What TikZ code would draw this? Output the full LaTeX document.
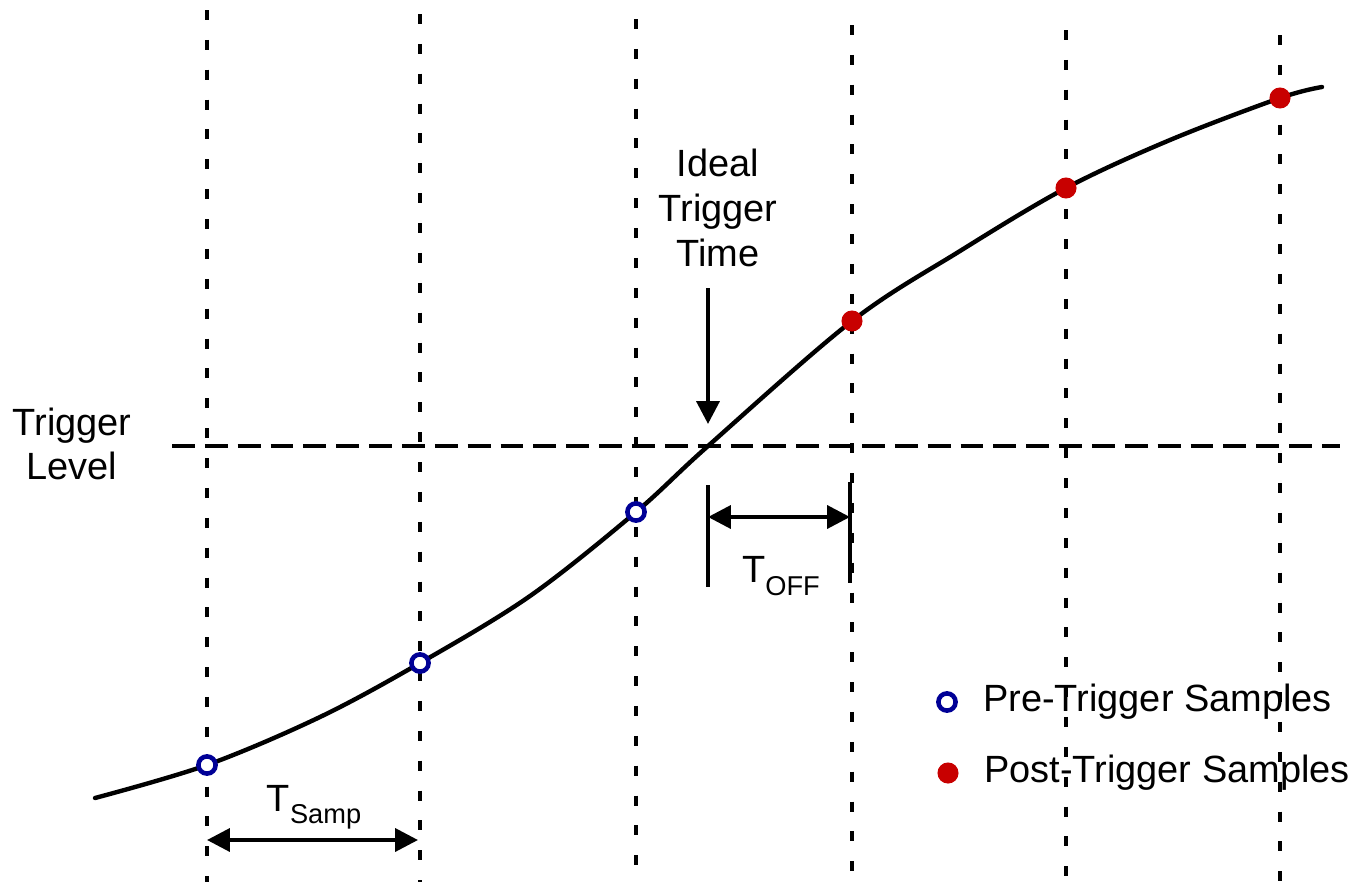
\documentclass[tikz,border=0pt]{standalone}
\usepackage{fontspec}
\setmainfont{Liberation Sans}
\definecolor{PreBlue}{RGB}{0, 0, 150}
\definecolor{PostRed}{RGB}{200, 0, 0}
\usetikzlibrary{arrows.meta,positioning}
\newcommand{\lowsub}[1]{\raisebox{-0.32em}{\fontsize{15.5}{15.5}\selectfont #1}}

\begin{document}
\begin{tikzpicture}[
    x=0.02cm, y=-0.02cm,
    gridline/.style={line width=2.4pt, dash pattern=on 5.7pt off 11.3pt},
    levelline/.style={line width=2.2pt, dash pattern=on 13pt off 5.7pt},
    wave/.style={line width=2.5pt, line cap=round},
    arr/.style={-{Triangle[length=13pt, width=13pt]}, line width=2.2pt},
    dim/.style={{Triangle[length=13pt, width=13pt]}-{Triangle[length=13pt, width=13pt]}, line width=2.2pt},
    tickline/.style={line width=2.2pt},
    pre/.style={circle, draw=PreBlue, line width=2.6pt, fill=white, minimum size=9.8pt, inner sep=0pt},
    post/.style={circle, fill=PostRed, minimum size=12pt, inner sep=0pt},
    lbl/.style={font=\fontsize{21.6}{25.5}\selectfont, align=center, inner sep=0pt}
]
    \useasboundingbox (0,0) rectangle (1353,893);

    % sampling instants
    \foreach \x/\t [count=\i] in {207/10, 420/14, 636/19, 852/25, 1066/30, 1280/35}
        \draw[gridline] (\x,\t) -- (\x,882);

    % trigger level
    \draw[levelline] (172,446) -- (1340,446);
    \node[lbl] (trig) at (72,444) {Trigger\\Level};

    % signal
    \coordinate (s1) at (207,765);
    \coordinate (s2) at (420,663);
    \coordinate (s3) at (636,512);
    \coordinate (cross) at (708,446);
    \coordinate (s4) at (852,321);
    \coordinate (s5) at (1066,188);
    \coordinate (s6) at (1280,98);
    \draw[wave] plot[smooth, tension=0.55] coordinates {(95,798) (s1) (320,717) (s2) (530,596) (s3) (cross) (s4) (960,251) (s5) (1170,140) (s6) (1322,87)};

    \foreach \s in {s1,s2,s3} \node[pre] at (\s) {};
    \foreach \s in {s4,s5,s6} \node[post] at (\s) {};

    % ideal trigger time
    \node[lbl] (ideal) at (718,208) {Ideal\\Trigger\\Time};
    \coordinate (ttop) at (708,288);
    \coordinate (tbot) at (708,424);
    \draw[arr] (ttop) -- (tbot);

    % offset
    \coordinate (offa) at (708,485);
    \coordinate (offb) at (708,587);
    \coordinate (offc) at (850,482);
    \coordinate (offd) at (850,583);
    \draw[tickline] (offa) -- (offb);
    \draw[tickline] (offc) -- (offd);
    \coordinate (offl) at (708,517);
    \coordinate (offr) at (850,517);
    \draw[dim] (offl) -- (offr);
    \node[lbl] (toff) at (781,576) {T\lowsub{OFF}};

    % sample period
    \coordinate (sampl) at (207,840);
    \coordinate (sampr) at (418,840);
    \draw[dim] (sampl) -- (sampr);
    \node[lbl] (tsamp) at (314,807) {T\lowsub{Samp}};

    % legend
    \node[pre] (premark) at (947,702) {};
    \node[lbl, right=0.5cm of premark] (pretext) {Pre-Trigger Samples};
    \node[post] (postmark) at (948,773) {};
    \node[lbl, right=0.5cm of postmark] (posttext) {Post-Trigger Samples};
\end{tikzpicture}
\end{document}
